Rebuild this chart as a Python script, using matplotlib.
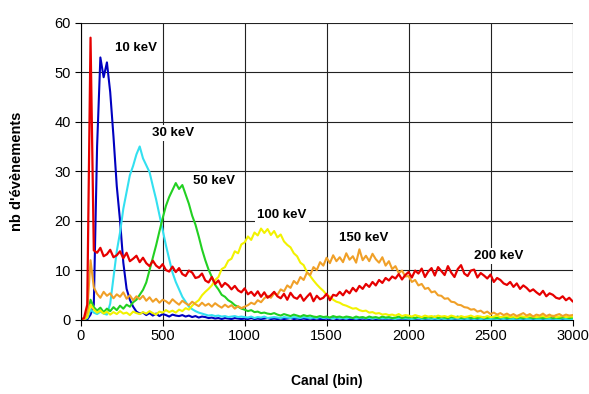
import numpy as np
import matplotlib
matplotlib.use("Agg")
import matplotlib.pyplot as plt

plt.rcParams['font.family'] = ['Liberation Sans', 'DejaVu Sans']

# channel axis (step of 20 bins)
canal = np.arange(0, 3001, 20)

# counts, one value per 20 channels
kev200 = [0, 0.3, 3, 57, 14, 13.5, 14.5, 12.8, 13.2, 14.1,
          12.6, 13.0, 13.8, 12.4, 13.5, 11.8, 12.3, 12.9, 11.6, 12.5,
          11.4, 10.8, 11.9, 10.9, 10.4, 11.2, 10.0, 9.7, 10.7, 9.6,
          10.4, 9.2, 8.8, 9.9, 9.5, 8.4, 8.6, 9.3, 7.9, 7.5,
          8.6, 7.2, 7.9, 6.6, 7.4, 6.9, 6.1, 6.8, 5.9, 5.5,
          6.3, 5.1, 5.6, 4.8, 5.7, 4.6, 5.5, 4.4, 4.9, 5.6,
          4.7, 4.3, 5.2, 4.0, 5.4, 4.5, 4.2, 5.0, 3.8, 4.6,
          5.3, 3.7, 4.8, 4.1, 4.4, 5.2, 3.9, 5.0, 4.8, 5.6,
          4.9, 5.9, 5.3, 6.4, 5.7, 6.8, 6.2, 7.2, 6.6, 7.6,
          6.9, 8.0, 7.4, 8.4, 7.9, 8.7, 8.3, 9.2, 8.1, 9.0,
          9.6, 8.5, 9.9, 9.3, 10.3, 8.6, 9.7, 10.4, 8.9, 10.6,
          9.8, 9.0, 10.8, 9.5, 8.6, 10.2, 11.0, 9.3, 8.8, 9.9,
          10.1, 8.5, 9.4, 8.9, 8.3, 9.1, 7.6, 8.4, 8.0, 7.3,
          7.0, 7.6, 6.6, 7.3, 6.2, 6.9, 6.4, 5.7, 6.1, 5.5,
          5.0, 5.8, 4.7, 5.3, 5.0, 4.4, 4.2, 4.7, 3.9, 4.4,
          3.7]

kev150 = [0, 0, 1.5, 12, 6.5, 5.2, 4.4, 5.6, 4.8, 5.3,
          4.3, 5.1, 4.6, 5.5, 4.2, 4.9, 3.9, 4.7, 4.1, 4.8,
          3.8, 4.5, 3.6, 4.2, 3.4, 4.0, 3.7, 3.2, 4.1, 3.5,
          3.0, 3.8, 3.3, 2.9, 3.6, 3.1, 2.7, 3.4, 2.8, 3.2,
          2.6, 3.3, 2.8, 2.4, 3.0, 2.5, 2.9, 2.2, 2.7, 2.3,
          2.6, 2.9, 3.4, 3.1, 3.9, 3.5, 4.3, 4.8, 4.4, 5.3,
          5.0, 6.1, 5.7, 6.9, 6.4, 7.8, 7.2, 8.6, 8.0, 9.5,
          9.0, 10.6, 10.0, 11.6, 10.9, 12.5, 11.4, 13.0, 11.8, 12.6,
          11.6, 13.4, 12.1, 12.8, 11.5, 14.2, 12.0, 12.9, 11.8, 13.3,
          12.2, 11.5, 12.6, 10.9, 11.8, 10.2, 10.8, 9.4, 9.9, 8.7,
          8.8, 7.6, 8.0, 6.9, 7.2, 6.2, 6.4, 5.5, 5.7, 4.9,
          4.8, 4.2, 4.3, 3.6, 3.5, 3.0, 2.9, 2.5, 2.4, 2.0,
          2.1, 1.6, 1.8, 1.3, 1.6, 1.1, 1.4, 1.0, 1.3, 0.9,
          1.2, 0.8, 1.1, 0.7, 1.0, 1.3, 0.8, 1.1, 0.6, 1.0,
          0.8, 1.2, 0.7, 1.0, 0.6, 0.9, 1.1, 0.7, 1.0, 0.8,
          0.9]

kev100 = [0, 0, 0.5, 3, 2, 1.4, 1.8, 1.2, 1.6, 1.0,
          1.5, 1.1, 1.7, 1.2, 1.4, 0.9, 1.6, 1.3, 1.1, 1.5,
          1.2, 1.7, 1.3, 1.0, 1.6, 1.4, 1.9, 1.5, 1.8, 1.4,
          2.0, 1.7, 2.3, 2.0, 2.8, 3.4, 3.9, 4.9, 5.6, 6.2,
          6.9, 8.0, 8.6, 10.2, 10.6, 11.9, 12.3, 13.8, 13.4, 15.2,
          15.6, 16.8, 16.1, 17.6, 17.0, 18.4, 17.5, 18.3, 17.1, 17.9,
          16.6, 17.2, 15.8, 15.1, 14.6, 13.4, 12.8, 11.5, 11.0, 9.6,
          8.8, 7.9, 7.1, 6.4, 5.8, 5.0, 4.6, 4.0, 3.6, 3.4,
          3.0, 2.8, 2.5, 2.2, 2.3, 1.9, 1.7, 1.8, 1.4, 1.5,
          1.2, 1.3, 1.0, 1.1, 0.9, 1.0, 0.8, 1.1, 0.7, 0.9,
          0.8, 0.6, 0.9, 0.7, 0.5, 0.8, 0.6, 0.7, 0.5, 0.8,
          0.6, 0.7, 0.5, 0.8, 0.6, 0.4, 0.7, 0.5, 0.6, 0.8,
          0.5, 0.7, 0.6, 0.4, 0.7, 0.5, 0.6, 0.8, 0.5, 0.6,
          0.7, 0.5, 0.6, 0.4, 0.7, 0.6, 0.5, 0.7, 0.6, 0.5,
          0.6, 0.7, 0.5, 0.6, 0.8, 0.5, 0.6, 0.7, 0.5, 0.6,
          0.6]

kev50 = [0, 0, 0.5, 4, 2.5, 1.8, 2.4, 1.5, 2.2, 1.7,
         2.5, 1.9, 2.8, 2.2, 3.0, 2.6, 3.5, 4.0, 5.0, 6.0,
         7.5, 10.0, 12.5, 15.0, 17.8, 20.5, 23.0, 24.8, 26.2, 27.6,
         26.4, 27.2, 25.3, 23.4, 21.0, 19.2, 16.8, 14.2, 12.0, 10.1,
         8.6, 7.0, 6.1, 5.0, 4.6, 3.9, 3.5, 2.9, 2.6, 2.2,
         2.0, 1.7, 1.9, 1.5, 1.6, 1.3, 1.4, 1.2, 1.1, 1.3,
         1.0, 0.8, 1.1, 0.9, 0.7, 1.0, 0.8, 0.6, 0.9, 0.7,
         0.8, 0.6, 0.5, 0.7, 0.5, 0.6, 0.4, 0.7, 0.5, 0.6,
         0.4, 0.6, 0.5, 0.3, 0.6, 0.4, 0.5, 0.3, 0.6, 0.4,
         0.5, 0.3, 0.6, 0.4, 0.5, 0.3, 0.4, 0.6, 0.3, 0.5,
         0.4, 0.5, 0.3, 0.6, 0.4, 0.3, 0.5, 0.4, 0.6, 0.3,
         0.5, 0.4, 0.3, 0.5, 0.4, 0.6, 0.3, 0.4, 0.5, 0.3,
         0.4, 0.3, 0.5, 0.4, 0.3, 0.5, 0.4, 0.3, 0.4, 0.5,
         0.3, 0.4, 0.5, 0.3, 0.4, 0.3, 0.5, 0.4, 0.3, 0.4,
         0.4, 0.3, 0.4, 0.5, 0.3, 0.4, 0.3, 0.4, 0.5, 0.3,
         0.4]

kev30 = [0, 0, 0.3, 2.0, 1.4, 1.1, 1.6, 1.2, 1.0, 3.2,
         8.5, 13.8, 17.6, 22.4, 25.8, 29.2, 31.1, 33.4, 35.0, 32.6,
         31.2, 29.8, 27.0, 24.3, 21.2, 18.1, 15.0, 12.2, 9.5, 7.6,
         6.1, 4.6, 3.6, 2.6, 2.1, 1.7, 1.4, 1.2, 1.0, 0.8,
         0.9, 0.7, 0.8, 0.6, 0.7, 0.5, 0.6, 0.7, 0.5, 0.6,
         0.5, 0.4, 0.6, 0.3, 0.5, 0.4, 0.6, 0.3, 0.4, 0.5,
         0.4, 0.3, 0.5, 0.4, 0.3, 0.5, 0.4, 0.3, 0.5, 0.4,
         0.3, 0.4, 0.3, 0.5, 0.3, 0.4, 0.3, 0.2, 0.4, 0.3,
         0.3, 0.2, 0.4, 0.3, 0.2, 0.3, 0.4, 0.2, 0.3, 0.2,
         0.3, 0.2, 0.3, 0.2, 0.3, 0.2, 0.1, 0.3, 0.2, 0.2,
         0.2, 0.1, 0.2, 0.3, 0.1, 0.2, 0.2, 0.1, 0.2, 0.1,
         0.2, 0.1, 0.2, 0.1, 0.2, 0.2, 0.1, 0.2, 0.1, 0.2,
         0.1, 0.2, 0.1, 0.2, 0.1, 0.1, 0.2, 0.1, 0.2, 0.1,
         0.2, 0.1, 0.1, 0.2, 0.1, 0.2, 0.1, 0.1, 0.2, 0.1,
         0.1, 0.2, 0.1, 0.1, 0.2, 0.1, 0.1, 0.2, 0.1, 0.1,
         0.1]

kev10 = [0, 0, 0, 1.0, 3.0, 35, 53, 49, 52, 46,
         37, 27, 20, 11.5, 6.2, 4.0, 2.6, 1.6, 1.2, 1.4,
         0.9, 1.3, 0.8, 1.2, 0.7, 1.1, 0.9, 0.6, 1.0, 0.8,
         0.7, 0.9, 0.6, 0.8, 0.5, 0.7, 0.4, 0.6, 0.5, 0.3,
         0.4, 0.2, 0.3, 0.1, 0.3, 0.2, 0.1, 0.3, 0.2, 0.1,
         0.2, 0.1, 0.3, 0.1, 0.2, 0.1, 0.2, 0.3, 0.1, 0.2,
         0.1, 0.2, 0.1, 0.2, 0.3, 0.1, 0.2, 0.1, 0.2, 0.1,
         0.2, 0.1, 0.2, 0.1, 0.1, 0.2, 0.1, 0.3, 0.1, 0.2,
         0.1, 0.2, 0.1, 0.1, 0.2, 0.1, 0.2, 0.1, 0.1, 0.2,
         0.1, 0.1, 0.2, 0.1, 0.2, 0.1, 0.1, 0.2, 0.1, 0.1,
         0.2, 0.1, 0.1, 0.2, 0.1, 0.1, 0.2, 0.1, 0.1, 0.1,
         0.1, 0.2, 0.1, 0.1, 0.1, 0.2, 0.1, 0.1, 0.2, 0.1,
         0.1, 0.1, 0.2, 0.1, 0.1, 0.1, 0.2, 0.1, 0.1, 0.2,
         0.1, 0.1, 0.1, 0.2, 0.1, 0.1, 0.1, 0.2, 0.1, 0.1,
         0.2, 0.1, 0.1, 0.1, 0.2, 0.1, 0.1, 0.1, 0.2, 0.1,
         0.1]

# label text and where it sits (channel, counts)
labels = ['10 keV', '30 keV', '50 keV', '100 keV', '150 keV', '200 keV']
label_x = [337, 563, 814, 1227, 1727, 2550]
label_y = [55, 37.8, 28, 21.2, 16.5, 12.9]

fig = plt.figure(figsize=(5.89, 3.94), dpi=100)
ax = fig.add_axes([0.137, 0.189, 0.835, 0.753])

ax.plot(canal, kev10, color='#0000c0', lw=1.5)
ax.plot(canal, kev30, color='#33e0f0', lw=1.5)
ax.plot(canal, kev50, color='#22d022', lw=1.5)
ax.plot(canal, kev100, color='#f2f200', lw=1.5)
ax.plot(canal, kev150, color='#f0a028', lw=1.5)
ax.plot(canal, kev200, color='#e60000', lw=1.6)

for t, x, y in zip(labels, label_x, label_y):
    ax.text(x, y, t, fontsize=9.5, fontweight='bold', ha='center', va='center',
            bbox=dict(facecolor='white', edgecolor='none', pad=1.5))

ax.set_xlim(0, 3000)
ax.set_ylim(0, 60)
ax.set_xticks(range(0, 3001, 500))
ax.set_yticks(range(0, 61, 10))
ax.grid(True, color='#222222', lw=0.8)
ax.set_axisbelow(True)
for s in ['top', 'right']:
    ax.spines[s].set_visible(False)
ax.tick_params(labelsize=10.5, length=4, width=0.8, pad=3)
ax.set_xlabel('Canal (bin)', fontsize=10, fontweight='bold', labelpad=22)
ax.set_ylabel("nb d'évènements", fontsize=10.5, fontweight='bold', labelpad=22)

fig.savefig('out.png', dpi=100)
